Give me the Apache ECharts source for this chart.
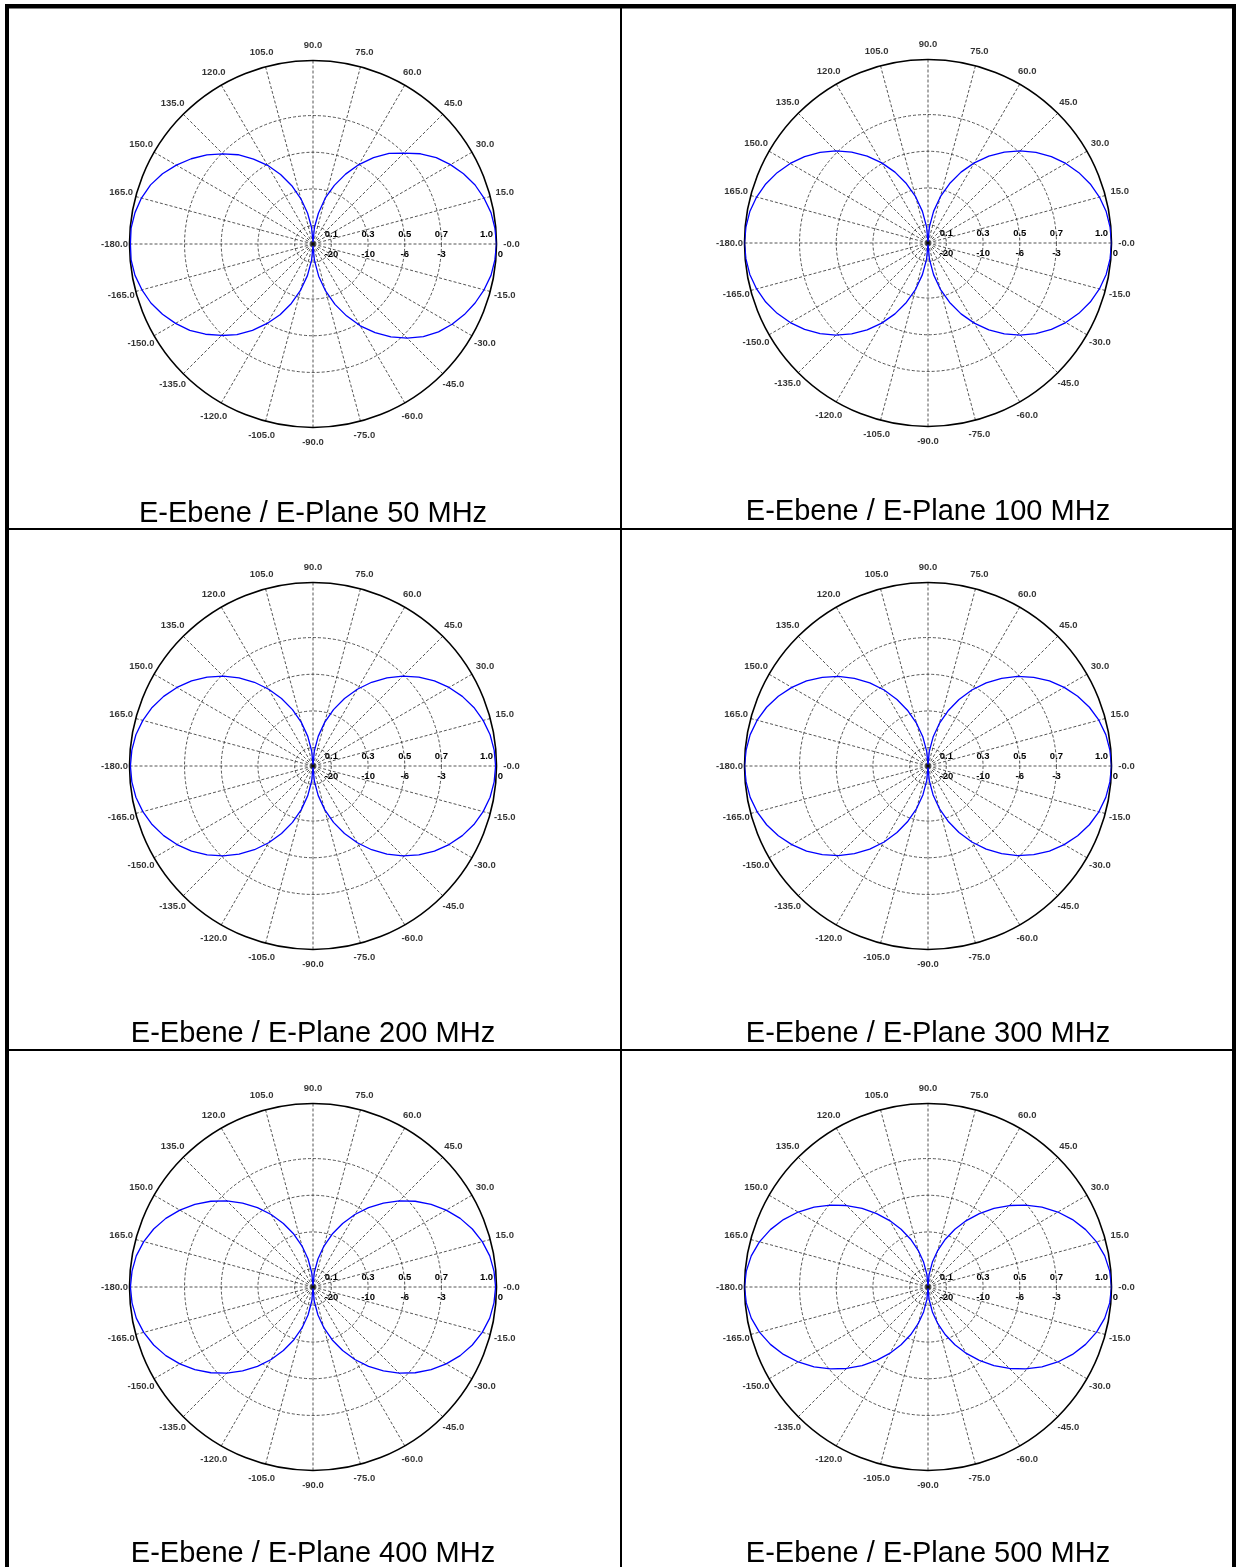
<!DOCTYPE html>
<html>
<head>
<meta charset="utf-8">
<style>
  html, body { margin: 0; padding: 0; background: #ffffff; }
  #chart { width: 1236px; height: 1567px; }
</style>
<script src="https://cdn.jsdelivr.net/npm/echarts@6/dist/echarts.min.js"></script>
</head>
<body>
<div id="chart"></div>
<script>
// ---------- DATA ----------
const titles = [
  'E-Ebene / E-Plane 50 MHz', 'E-Ebene / E-Plane 100 MHz',
  'E-Ebene / E-Plane 200 MHz', 'E-Ebene / E-Plane 300 MHz',
  'E-Ebene / E-Plane 400 MHz', 'E-Ebene / E-Plane 500 MHz'
];
const angleTickValues = [0,15,30,45,60,75,90,105,120,135,150,165,180,195,210,225,240,255,270,285,300,315,330,345];
const angleTickLabels = ['-0.0','15.0','30.0','45.0','60.0','75.0','90.0','105.0','120.0','135.0','150.0','165.0',
  '-180.0','-165.0','-150.0','-135.0','-120.0','-105.0','-90.0','-75.0','-60.0','-45.0','-30.0','-15.0'];
const radialTicks = [0.1, 0.3, 0.5, 0.7, 1.0];
const radialTickLabels = ['0.1', '0.3', '0.5', '0.7', '1.0'];
const dbTickLabels = ['-20', '-10', '-6', '-3', '0'];

// angles in degrees (0 = right, counter-clockwise)
const angles = [0,5,10,15,20,25,30,35,40,45,50,55,60,65,70,75,80,85,
  90,95,100,105,110,115,120,125,130,135,140,145,150,155,160,165,170,175,
  180,185,190,195,200,205,210,215,220,225,230,235,240,245,250,255,260,265,
  270,275,280,285,290,295,300,305,310,315,320,325,330,335,340,345,350,355];

// relative field strength (linear)
const e50 = [1.00,.995,.985,.965,.94,.905,.865,.82,.765,.70,.645,.575,.50,.42,.34,.26,.17,.09,
  .01,.09,.172,.255,.338,.418,.495,.565,.635,.695,.755,.81,.86,.905,.942,.968,.985,.995,
  .995,.995,.985,.965,.94,.905,.865,.82,.765,.705,.645,.575,.50,.425,.345,.26,.175,.09,
  .01,.09,.178,.265,.35,.432,.515,.59,.66,.725,.785,.835,.875,.91,.94,.965,.985,.995];
const e100 = [1.00,.996,.986,.967,.941,.907,.867,.821,.768,.71,.647,.578,.504,.426,.345,.261,.175,.088,
  .005,.088,.175,.261,.345,.426,.504,.578,.647,.71,.768,.821,.867,.907,.941,.967,.986,.996,
  1.00,.996,.986,.967,.941,.907,.867,.821,.768,.71,.647,.578,.504,.426,.345,.261,.175,.088,
  .005,.088,.175,.261,.345,.426,.504,.578,.647,.71,.768,.821,.867,.907,.941,.967,.986,.996];
const e200 = [.995,.991,.98,.96,.933,.898,.856,.808,.753,.692,.627,.557,.483,.406,.327,.246,.164,.082,
  .005,.082,.164,.246,.327,.406,.483,.557,.627,.692,.753,.808,.856,.898,.933,.96,.98,.991,
  .995,.991,.98,.96,.933,.898,.856,.808,.753,.692,.627,.557,.483,.406,.327,.246,.164,.082,
  .005,.082,.164,.246,.327,.406,.483,.557,.627,.692,.753,.808,.856,.898,.933,.96,.98,.991];
const e300 = [1.00,.995,.984,.964,.936,.90,.857,.808,.752,.69,.624,.553,.478,.40,.32,.24,.16,.08,
  .005,.08,.16,.24,.32,.40,.478,.553,.624,.69,.752,.808,.857,.90,.936,.964,.984,.995,
  1.00,.995,.984,.964,.936,.90,.857,.808,.752,.69,.624,.553,.478,.40,.32,.24,.16,.08,
  .005,.08,.16,.24,.32,.40,.478,.553,.624,.69,.752,.808,.857,.90,.936,.964,.984,.995];
const e400 = [.995,.99,.978,.955,.924,.885,.838,.786,.727,.664,.597,.528,.456,.382,.307,.231,.155,.078,
  .005,.078,.155,.231,.307,.382,.456,.528,.597,.664,.727,.786,.838,.885,.924,.955,.978,.99,
  .995,.99,.978,.955,.924,.885,.838,.786,.727,.664,.597,.528,.456,.382,.307,.231,.155,.078,
  .005,.078,.155,.231,.307,.382,.456,.528,.597,.664,.727,.786,.838,.885,.924,.955,.978,.99];
const e500 = [1.00,.994,.978,.951,.914,.869,.817,.758,.694,.628,.559,.488,.418,.347,.277,.207,.138,.068,
  .005,.068,.138,.207,.277,.347,.418,.488,.559,.628,.694,.758,.817,.869,.914,.951,.978,.994,
  1.00,.994,.978,.951,.914,.869,.817,.758,.694,.628,.559,.488,.418,.347,.277,.207,.138,.068,
  .005,.068,.138,.207,.277,.347,.418,.488,.559,.628,.694,.758,.817,.869,.914,.951,.978,.994];
const patterns = [e50, e100, e200, e300, e400, e500];

// ---------- LAYOUT ----------
const centers = [[313, 244], [928, 243], [313, 766], [928, 766], [313, 1287], [928, 1287]];
const plotRadius = 183.5;
const angleLabelRadius = 1.082;   // label centres just outside the rim (in radius-axis units)
const titlePos = [[313, 514], [928, 512], [313, 1034], [928, 1034], [313, 1554], [928, 1554]];

const FONT = 'Liberation Sans, Arial, Helvetica, sans-serif';
const gridLine = { color: '#2a2a2a', width: 0.8, type: [3, 2] };
const smallText = { fontSize: 9.5, fontWeight: 'bold', fontFamily: FONT, color: '#000' };

const polar = [], angleAxis = [], radiusAxis = [], series = [];
centers.forEach((c, i) => {
  polar.push({ center: c, radius: plotRadius });
  angleAxis.push({
    polarIndex: i, type: 'value', min: 0, max: 360, interval: 15,
    startAngle: 0, clockwise: false,
    axisLine: { show: true, lineStyle: { color: '#000', width: 1.6 } },
    axisTick: { show: false },
    splitLine: { show: true, lineStyle: gridLine },
    axisLabel: { show: false }
  });
  radiusAxis.push({
    polarIndex: i, type: 'value', min: 0, max: 1,
    axisLine: { show: false },
    axisTick: { show: false, customValues: [0.1, 0.3, 0.5, 0.7] },
    splitLine: { show: true, lineStyle: gridLine },
    axisLabel: {
      show: true, margin: 0, verticalAlign: 'middle', align: 'center',
      customValues: radialTicks,
      formatter: v => {
        const k = radialTicks.findIndex(t => Math.abs(t - v) < 1e-6);
        if (k === radialTicks.length - 1) return '{r|' + radialTickLabels[k] + '}\n{o|' + dbTickLabels[k] + '}';
        return '{t|' + radialTickLabels[k] + '}\n{b|' + dbTickLabels[k] + '}';
      },
      rich: {
        t: Object.assign({ lineHeight: 20 }, smallText),
        b: Object.assign({ lineHeight: 20 }, smallText),
        r: Object.assign({ lineHeight: 20, padding: [0, 20, 0, 0] }, smallText),
        o: Object.assign({ lineHeight: 20, padding: [0, 0, 0, 8] }, smallText)
      }
    }
  });
  const pts = angles.map((a, k) => [patterns[i][k], a]);
  pts.push([patterns[i][0], 360]);
  series.push({
    type: 'line', coordinateSystem: 'polar', polarIndex: i,
    data: pts, showSymbol: false, symbol: 'none', smooth: false,
    lineStyle: { color: '#0000ff', width: 1.3 }, silent: true, z: 5
  });
  // centre marker
  series.push({
    type: 'scatter', coordinateSystem: 'polar', polarIndex: i,
    data: [[0, 0]], symbol: 'rect', symbolSize: 3, itemStyle: { color: '#000' }, silent: true, z: 6
  });
  // angle tick labels, centred just outside the rim
  series.push({
    type: 'scatter', coordinateSystem: 'polar', polarIndex: i, clip: false,
    data: angleTickValues.map(a => [angleLabelRadius, a]),
    symbol: 'circle', symbolSize: 1, itemStyle: { color: 'rgba(0,0,0,0)' }, silent: true, z: 6,
    label: Object.assign({
      show: true, position: 'inside', align: 'center', verticalAlign: 'middle',
      formatter: p => angleTickLabels[p.dataIndex]
    }, smallText)
  });
});

// table borders + captions
const graphic = [
  { type: 'rect', shape: { x: 5, y: 4, width: 1231, height: 4.5 }, style: { fill: '#000' } },
  { type: 'rect', shape: { x: 5, y: 4, width: 4, height: 1563 }, style: { fill: '#000' } },
  { type: 'rect', shape: { x: 1232, y: 4, width: 4, height: 1563 }, style: { fill: '#000' } },
  { type: 'rect', shape: { x: 620, y: 4, width: 2, height: 1563 }, style: { fill: '#000' } },
  { type: 'rect', shape: { x: 5, y: 528, width: 1230, height: 2 }, style: { fill: '#000' } },
  { type: 'rect', shape: { x: 5, y: 1049, width: 1230, height: 2 }, style: { fill: '#000' } }
];
titles.forEach((t, i) => {
  graphic.push({
    type: 'text', x: titlePos[i][0], y: titlePos[i][1],
    style: { text: t, fill: '#000', font: '29px ' + FONT, textAlign: 'center', textVerticalAlign: 'middle' }
  });
});

const chart = echarts.init(document.getElementById('chart'), null, { renderer: 'canvas' });
chart.setOption({
  backgroundColor: '#ffffff',
  animation: false,
  polar, angleAxis, radiusAxis, series, graphic
});
</script>
</body>
</html>
